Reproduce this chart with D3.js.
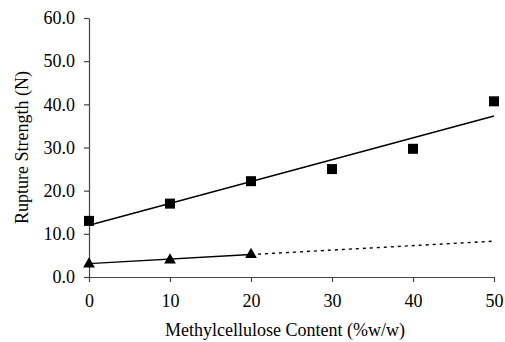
<!DOCTYPE html>
<html>
<head>
<meta charset="utf-8">
<script src="https://cdn.jsdelivr.net/npm/d3@7"></script>
<style>
  body { margin: 0; background: #fff; }
</style>
</head>
<body>
<script>
// data
const content = [0, 10, 20, 30, 40, 50];
const strengthSquare = [13.0, 17.0, 22.2, 25.0, 29.7, 40.7];
const contentTriangle = [0, 10, 20];
const strengthTriangle = [3.0, 3.9, 5.2];
// trend lines (end points)
const trendSquare = [[0, 12.0], [50, 37.3]];
const trendTriangleSolid = [[0, 3.1], [20, 5.2]];
const trendTriangleDotted = [[20, 5.2], [50, 8.3]];
const yTicks = [0, 10, 20, 30, 40, 50, 60];
const xTicks = [0, 10, 20, 30, 40, 50];

const serif = '"Liberation Serif"';
const width = 505, height = 342;
const margin = { left: 89, right: 11, top: 18, bottom: 65 };

const svg = d3.select("body").append("svg")
    .attr("width", width)
    .attr("height", height);

const x = d3.scaleLinear().domain([0, 50]).range([margin.left, width - margin.right]);
const y = d3.scaleLinear().domain([0, 60]).range([height - margin.bottom, margin.top]);

// y axis
const yAxis = svg.append("g")
    .attr("transform", "translate(" + margin.left + ",0)")
    .call(d3.axisLeft(y).tickValues(yTicks).tickFormat(d3.format(".1f")).tickSize(5).tickSizeOuter(0).tickPadding(9));

// x axis
const xAxis = svg.append("g")
    .attr("transform", "translate(0," + y(0) + ")")
    .call(d3.axisBottom(x).tickValues(xTicks).tickSize(5).tickSizeOuter(0).tickPadding(12));

[xAxis, yAxis].forEach(function(g) {
    g.select(".domain").attr("stroke", "#444").attr("stroke-width", 1.2);
    g.selectAll(".tick line").attr("stroke", "#444").attr("stroke-width", 1.2);
    g.selectAll(".tick text")
        .style("font-family", serif)
        .style("font-size", "18px")
        .attr("fill", "#000");
});

const line = d3.line().x(function(d) { return x(d[0]); }).y(function(d) { return y(d[1]); });

svg.append("path").datum(trendSquare)
    .attr("d", line).attr("fill", "none").attr("stroke", "#000").attr("stroke-width", 1.4);
svg.append("path").datum(trendTriangleSolid)
    .attr("d", line).attr("fill", "none").attr("stroke", "#000").attr("stroke-width", 1.4);
svg.append("path").datum(trendTriangleDotted)
    .attr("d", line).attr("fill", "none").attr("stroke", "#000").attr("stroke-width", 1.4)
    .attr("stroke-dasharray", "3,4");

// markers
svg.selectAll(".sq")
    .data(content.map(function(c, i) { return [c, strengthSquare[i]]; }))
    .enter().append("rect")
    .attr("class", "sq")
    .attr("x", function(d) { return x(d[0]) - 5; })
    .attr("y", function(d) { return y(d[1]) - 5; })
    .attr("width", 10).attr("height", 10)
    .attr("fill", "#000");

svg.selectAll(".tri")
    .data(contentTriangle.map(function(c, i) { return [c, strengthTriangle[i]]; }))
    .enter().append("path")
    .attr("class", "tri")
    .attr("transform", function(d) { return "translate(" + x(d[0]) + "," + y(d[1]) + ")"; })
    .attr("d", d3.symbol().type(d3.symbolTriangle).size(60))
    .attr("fill", "#000");

// axis titles
svg.append("text")
    .attr("x", 285)
    .attr("y", 336)
    .attr("text-anchor", "middle")
    .style("font-family", serif)
    .style("font-size", "18px")
    .text("Methylcellulose Content (%w/w)");

svg.append("text")
    .attr("transform", "translate(28," + y(30) + ") rotate(-90)")
    .attr("text-anchor", "middle")
    .style("font-family", serif)
    .style("font-size", "18px")
    .text("Rupture Strength (N)");
</script>
</body>
</html>
